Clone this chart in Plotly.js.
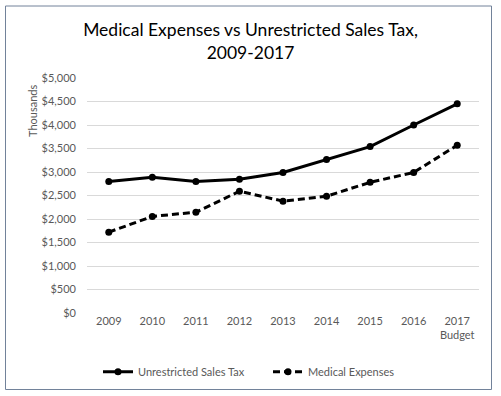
<!DOCTYPE html>
<html>
<head>
<meta charset="utf-8">
<script src="https://cdn.plot.ly/plotly-3.0.1.min.js"></script>
<style>html,body{margin:0;padding:0;background:#fff;}#chart{width:501px;height:396px;}</style>
</head>
<body>
<div id="chart"></div>
<script>
const categories = ['2009','2010','2011','2012','2013','2014','2015','2016','2017<br>Budget'];
const salesTax = [2800, 2890, 2800, 2845, 2990, 3265, 3540, 4000, 4450];
const medical = [1720, 2055, 2145, 2590, 2380, 2485, 2780, 2990, 3570];
const yTickVals = [0,500,1000,1500,2000,2500,3000,3500,4000,4500,5000];
const yTickText = ['$0','$500','$1,000','$1,500','$2,000','$2,500','$3,000','$3,500','$4,000','$4,500','$5,000'];

const FONT = 'Lato, Carlito, Calibri, sans-serif';
const traces = [
  {x: categories, y: salesTax, name: 'Unrestricted Sales Tax', type: 'scatter', mode: 'lines+markers',
   line: {color: '#000', width: 3}, marker: {color: '#000', size: 7}, legend: 'legend'},
  {x: categories, y: medical, name: 'Medical Expenses', type: 'scatter', mode: 'lines+markers',
   line: {color: '#000', width: 3, dash: '7px,4px'}, marker: {color: '#000', size: 7}, legend: 'legend2'}
];
const legendBase = {orientation: 'h', xanchor: 'left', y: -0.25, yanchor: 'middle',
                    font: {size: 11, color: '#595959'}, itemwidth: 30, bgcolor: 'rgba(0,0,0,0)'};
const layout = {
  width: 501, height: 396,
  margin: {l: 87, r: 22, t: 78, b: 83, autoexpand: false},
  paper_bgcolor: '#fff', plot_bgcolor: '#fff',
  font: {family: FONT, color: '#595959', size: 11},
  title: {text: 'Medical Expenses vs Unrestricted Sales Tax,<br>2009-2017', x: 0.5, xanchor: 'center',
          y: 1 - 36/396, yanchor: 'middle', font: {family: FONT, size: 17.5, color: '#000'}},
  xaxis: {type: 'category', range: [-0.5, 8.5], showgrid: false, zeroline: false, showline: false,
          ticks: '', tickfont: {size: 11, color: '#595959'}, fixedrange: true},
  yaxis: {range: [0, 5000], tickvals: yTickVals, ticktext: yTickText, showgrid: true, gridcolor: '#d9d9d9',
          gridwidth: 1, zeroline: false, showline: false, ticks: '', ticklabelstandoff: 10,
          tickfont: {size: 11, color: '#595959'}, fixedrange: true},
  showlegend: true,
  legend: Object.assign({}, legendBase, {x: (98-87)/392}),
  legend2: Object.assign({}, legendBase, {x: (268-87)/392}),
  annotations: [{text: 'Thousands', xref: 'paper', yref: 'paper', x: (32-87)/392, y: (313-111)/235,
                 xanchor: 'center', yanchor: 'middle', textangle: -90, showarrow: false,
                 font: {size: 11, color: '#595959'}}],
  shapes: [{type: 'rect', xref: 'paper', yref: 'paper', x0: (5.5-87)/392, x1: (491.5-87)/392,
            y0: (313-389.5)/235, y1: (313-6)/235, line: {color: '#72829a', width: 1}, fillcolor: 'rgba(0,0,0,0)'}]
};
Plotly.newPlot('chart', traces, layout, {displayModeBar: false, staticPlot: true});
</script>
</body>
</html>
